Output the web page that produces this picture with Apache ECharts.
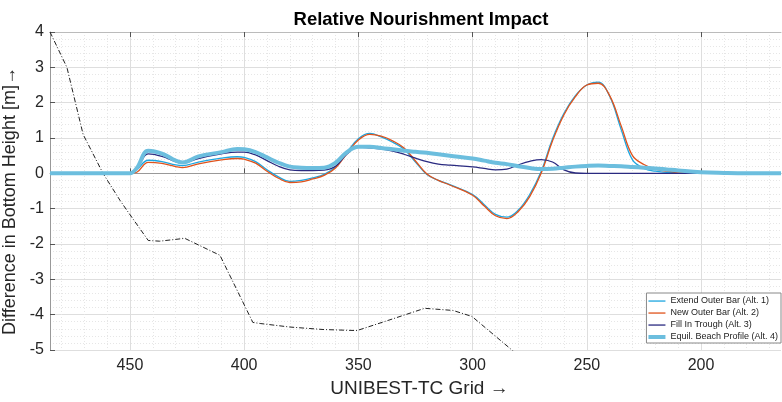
<!DOCTYPE html>
<html>
<head>
<meta charset="utf-8">
<script src="https://cdn.jsdelivr.net/npm/echarts@6/dist/echarts.min.js"></script>
<style>
  html, body { margin: 0; padding: 0; background: #fff; }
  #chart { width: 782px; height: 402px; }
</style>
</head>
<body>
<div id="chart"></div>
<script>
// grid positions (UNIBEST-TC grid, reversed axis)
const gridX = [485, 470, 455, 450, 447, 442, 436, 430, 427, 420, 410, 403, 400, 395, 390,
  385, 380, 375, 370, 365, 360, 355, 350, 345, 340, 335, 330, 325, 320, 315,
  310, 300, 295, 290, 285, 280, 275, 270, 265, 260, 255, 250, 245, 240, 235,
  230, 225, 220, 215, 210, 200, 190, 180, 165];

const alt1 = [0, 0, 0, 0, 0.1, 0.37, 0.33, 0.24, 0.22, 0.32, 0.43, 0.47, 0.45, 0.33, 0.1,
  -0.1, -0.23, -0.2, -0.13, -0.03, 0.18, 0.6, 0.98, 1.13, 1.03, 0.88, 0.68, 0.32, -0.03, -0.2,
  -0.32, -0.6, -0.88, -1.16, -1.24, -1.04, -0.6, 0.05, 0.98, 1.7, 2.2, 2.5, 2.58, 2.18, 1.25,
  0.38, 0.14, 0.06, 0.03, 0.01, 0, 0, 0, 0];

const alt2 = [0, 0, 0, 0, 0.03, 0.31, 0.28, 0.19, 0.16, 0.27, 0.38, 0.42, 0.4, 0.29, 0.06,
  -0.14, -0.26, -0.24, -0.16, -0.06, 0.15, 0.56, 0.94, 1.1, 1.05, 0.92, 0.72, 0.35, -0.02, -0.2,
  -0.33, -0.62, -0.92, -1.2, -1.28, -1.08, -0.66, 0, 0.92, 1.66, 2.17, 2.5, 2.55, 2.2, 1.35,
  0.5, 0.25, 0.12, 0.06, 0.03, 0.01, 0, 0, 0];

const alt3 = [0, 0, 0, 0, 0.12, 0.55, 0.48, 0.33, 0.29, 0.42, 0.55, 0.6, 0.6, 0.52, 0.36,
  0.2, 0.1, 0.08, 0.08, 0.09, 0.2, 0.55, 0.74, 0.72, 0.69, 0.63, 0.54, 0.43, 0.33, 0.26,
  0.23, 0.18, 0.14, 0.1, 0.12, 0.24, 0.34, 0.39, 0.32, 0.1, 0.01, 0, 0, 0, 0,
  0, 0, 0, 0, 0, 0, 0, 0, 0];

const alt4 = [0, 0, 0, 0, 0.15, 0.64, 0.56, 0.36, 0.31, 0.48, 0.6, 0.69, 0.68, 0.6, 0.45,
  0.3, 0.19, 0.16, 0.15, 0.16, 0.3, 0.6, 0.75, 0.75, 0.72, 0.68, 0.64, 0.61, 0.58, 0.54,
  0.5, 0.42, 0.36, 0.3, 0.26, 0.2, 0.15, 0.12, 0.13, 0.16, 0.19, 0.21, 0.22, 0.21, 0.2,
  0.18, 0.16, 0.14, 0.11, 0.08, 0.03, 0.01, 0, 0];

// bottom profile (dash-dot)
const profX = [485, 477.6, 470.5, 461.8, 454.4, 451.3, 442, 437, 426, 410.6, 396.2, 393, 380,
  365.5, 350.6, 335, 321, 308.6, 300.3, 282.8, 270];
const profY = [4, 3.0, 1.1, 0, -0.76, -1.05, -1.9, -1.92, -1.84, -2.32, -4.22, -4.25, -4.35,
  -4.42, -4.45, -4.12, -3.82, -3.88, -4.05, -5.0, -5.7];

const names = ['Extend Outer Bar (Alt. 1)', 'New Outer Bar (Alt. 2)', 'Fill In Trough (Alt. 3)', 'Equil. Beach Profile (Alt. 4)'];
const colors = ['#1EA6E0', '#E0531C', '#2A2A80', '#6CBEDE'];
const widths = [1.3, 1.3, 1.3, 4];

const xMajor = [450, 400, 350, 300, 250, 200];
const xMinor = [170, 180, 190, 210, 220, 230, 240, 260, 270, 280, 290, 310, 320, 330, 340,
  360, 370, 380, 390, 410, 420, 430, 440, 460, 470, 480];

const FONT = 'Liberation Sans, Arial, Helvetica, sans-serif';

// legend icons: plain line segments (invisible moves keep the box 17x8)
const thinIcon = 'path://M0,0M17,8M0,3.4h17v1.3h-17z';
const thickIcon = 'path://M0,0M17,8M0,2h17v4h-17z';

function pairs(xs, ys) {
  return xs.map((x, i) => [x, ys[i]]);
}

const chart = echarts.init(document.getElementById('chart'));

const lineSeries = [alt1, alt2, alt3, alt4].map((ys, i) => ({
  name: names[i],
  type: 'line',
  xAxisIndex: 0,
  data: pairs(gridX, ys),
  smooth: 0.4,
  symbol: 'none',
  z: 3 + i,
  lineStyle: { color: colors[i], width: widths[i] },
  itemStyle: { color: colors[i] }
}));

const option = {
  animation: false,
  textStyle: { fontFamily: FONT },
  title: {
    text: 'Relative Nourishment Impact',
    left: 416,
    textAlign: 'center',
    top: 5,
    textStyle: { fontSize: 18.5, fontWeight: 'bold', color: '#000', fontFamily: FONT }
  },
  legend: {
    data: names.map((n, i) => ({ name: n, icon: i === 3 ? thickIcon : thinIcon })),
    orient: 'vertical',
    right: 1,
    top: 293,
    itemWidth: 17,
    itemHeight: 8,
    itemGap: 2,
    itemStyle: { borderWidth: 0 },
    padding: [3, 3, 1, 2],
    backgroundColor: '#fff',
    borderColor: '#888',
    borderWidth: 1,
    textStyle: { fontSize: 9, lineHeight: 10, color: '#222', fontFamily: FONT }
  },
  grid: { left: 50, right: 1, top: 32, bottom: 52, outerBoundsMode: 'none' },
  xAxis: [
    {
      type: 'value',
      inverse: true,
      min: 165,
      max: 485,
      name: 'UNIBEST-TC Grid \u2192',
      nameLocation: 'middle',
      nameGap: 29,
      nameTextStyle: { fontSize: 19, color: '#262626', padding: [0, 0, 0, 8] },
      axisLine: { lineStyle: { color: '#999', width: 1 } },
      axisTick: { inside: true, length: 5, customValues: xMajor, lineStyle: { color: '#555' } },
      axisLabel: { customValues: xMajor, fontSize: 16, color: '#262626', margin: 8 },
      splitLine: { show: true, lineStyle: { color: '#dedede', width: 1 } }
    },
    {
      // top border with ticks
      type: 'value',
      inverse: true,
      position: 'top',
      min: 165,
      max: 485,
      axisLine: { show: true, lineStyle: { color: '#bbb', width: 1 } },
      axisTick: { inside: true, length: 5, customValues: xMajor, lineStyle: { color: '#555' } },
      axisLabel: { show: false },
      splitLine: { show: false }
    },
    {
      // minor grid
      type: 'value',
      inverse: true,
      min: 165,
      max: 485,
      axisLine: { show: false },
      axisTick: { show: false, customValues: xMinor },
      axisLabel: { show: false },
      splitLine: { show: true, lineStyle: { color: '#e6e6e6', type: [1, 2], width: 1 } }
    }
  ],
  yAxis: {
    type: 'value',
    min: -5,
    max: 4,
    interval: 1,
    name: 'Difference in Bottom Height [m]\u2192',
    nameLocation: 'middle',
    nameGap: 20,
    nameTextStyle: { fontSize: 18, color: '#262626', padding: [0, 20, 0, 0] },
    axisLine: { show: true, lineStyle: { color: '#999', width: 1 } },
    axisTick: { show: true, inside: true, length: 5, lineStyle: { color: '#555' } },
    axisLabel: { fontSize: 16, color: '#262626', margin: 6 },
    splitLine: { show: true, lineStyle: { color: '#dedede', width: 1 } },
    minorTick: { show: false, splitNumber: 5 },
    minorSplitLine: { show: true, lineStyle: { color: '#e6e6e6', type: [1, 2], width: 1 } }
  },
  series: [
    {
      name: 'Profile',
      type: 'line',
      data: pairs(profX, profY),
      symbol: 'none',
      z: 2,
      lineStyle: { color: '#222', width: 1, type: [5, 2, 1, 2] }
    }
  ].concat(lineSeries)
};

chart.setOption(option);
</script>
</body>
</html>
